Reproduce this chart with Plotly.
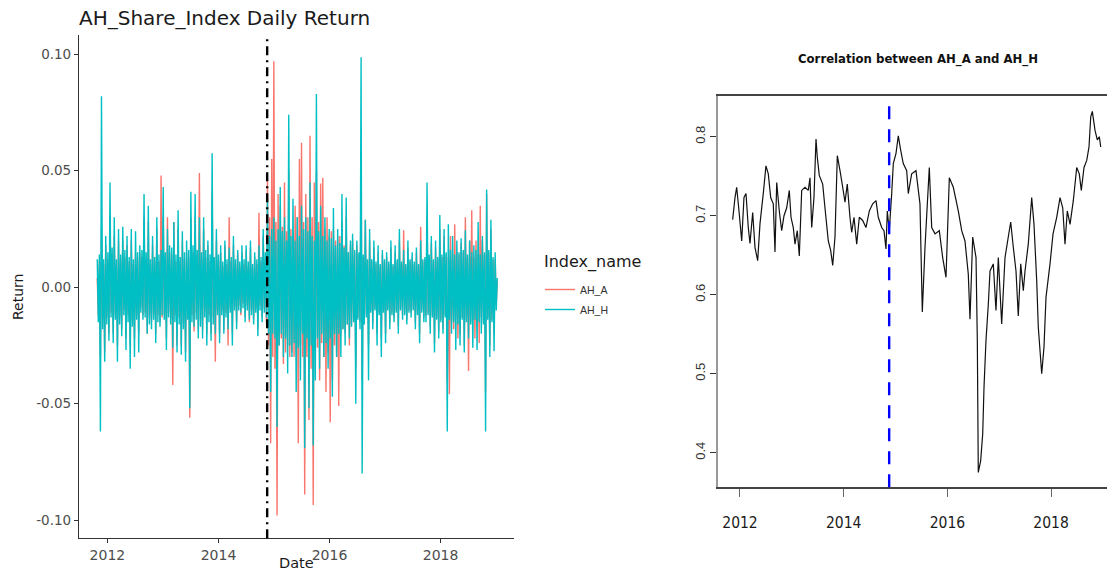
import pandas as pd
import plotly.graph_objects as go

# Return panel: one observation per week, late Oct 2011 to Jan 2019
ret_dates = pd.date_range("2011-10-26", periods=377, freq="7D")

ah_a = [
    0.004, -0.012, 0.011, -0.030, 0.025, -0.014, 0.010, -0.028, 0.018, -0.013,
    0.012, -0.020, 0.030, -0.011, 0.014, -0.020, 0.022, -0.012, 0.010, -0.025,
    0.020, -0.013, 0.012, -0.018, 0.020, -0.010, 0.013, -0.022, 0.018, -0.012,
    0.011, -0.025, 0.020, -0.014, 0.010, -0.022, 0.015, -0.012, 0.013, -0.020,
    0.015, -0.009, 0.013, -0.012, 0.030, -0.011, 0.012, -0.020, 0.028, -0.013,
    0.010, -0.015, 0.018, -0.012, 0.011, -0.020, 0.025, -0.012, 0.011, -0.015,
    0.048, -0.013, 0.030, -0.012, 0.012, -0.022, 0.030, -0.011, 0.015, -0.013,
    0.014, -0.042, 0.028, -0.012, 0.011, -0.025, 0.025, -0.013, 0.011, -0.025,
    0.020, -0.015, 0.012, -0.028, 0.015, -0.011, 0.013, -0.056, 0.030, -0.012,
    0.015, -0.019, 0.030, -0.011, 0.013, -0.018, 0.049, -0.014, 0.012, -0.018,
    0.025, -0.011, 0.013, -0.020, 0.018, -0.012, 0.011, -0.020, 0.040, -0.013,
    0.011, -0.032, 0.020, -0.010, 0.011, -0.020, 0.015, -0.010, 0.009, -0.018,
    0.018, -0.011, 0.010, -0.025, 0.030, -0.009, 0.011, -0.020, 0.018, -0.008,
    0.010, -0.015, 0.015, -0.008, 0.009, -0.012, 0.015, -0.007, 0.010, -0.013,
    0.016, -0.008, 0.009, -0.015, 0.017, -0.010, 0.008, -0.014, 0.013, -0.009,
    0.010, -0.018, 0.032, -0.008, 0.011, -0.013, 0.022, -0.009, 0.012, -0.015,
    0.047, -0.025, 0.030, -0.067, 0.055, -0.030, 0.097, -0.035, 0.028, -0.098,
    0.040, -0.025, 0.035, -0.022, 0.026, -0.033, 0.045, -0.028, 0.024, -0.025,
    0.050, -0.030, 0.025, -0.028, 0.022, -0.030, 0.035, -0.028, 0.030, -0.067,
    0.055, -0.025, 0.062, -0.030, 0.028, -0.089, 0.040, -0.030, 0.030, -0.057,
    0.065, -0.035, 0.030, -0.0935, 0.045, -0.025, 0.050, -0.026, 0.028, -0.040,
    0.0445, -0.024, 0.047, -0.030, 0.025, -0.045, 0.030, -0.028, 0.022, -0.058,
    0.024, -0.040, 0.025, -0.025, 0.020, -0.030, 0.022, -0.051, 0.022, -0.020,
    0.028, -0.018, 0.018, -0.020, 0.030, -0.016, 0.015, -0.025, 0.018, -0.016,
    0.020, -0.014, 0.015, -0.035, 0.018, -0.013, 0.014, -0.015, 0.050, -0.040,
    0.013, -0.015, 0.029, -0.012, 0.011, -0.025, 0.020, -0.010, 0.011, -0.015,
    0.017, -0.009, 0.010, -0.020, 0.015, -0.011, 0.009, -0.022, 0.014, -0.010,
    0.011, -0.020, 0.013, -0.009, 0.010, -0.015, 0.017, -0.011, 0.009, -0.013,
    0.015, -0.010, 0.011, -0.017, 0.020, -0.009, 0.010, -0.012, 0.0245, -0.011,
    0.009, -0.014, 0.017, -0.010, 0.011, -0.011, 0.013, -0.009, 0.010, -0.015,
    0.015, -0.011, 0.009, -0.020, 0.026, -0.010, 0.011, -0.013, 0.012, -0.012,
    0.030, -0.011, 0.013, -0.017, 0.019, -0.012, 0.011, -0.024, 0.017, -0.013,
    0.012, -0.019, 0.025, -0.014, 0.013, -0.018, 0.022, -0.012, 0.014, -0.040,
    0.013, -0.046, 0.022, -0.015, 0.014, -0.018, 0.027, -0.013, 0.015, -0.022,
    0.014, -0.020, 0.019, -0.013, 0.015, -0.025, 0.030, -0.014, 0.013, -0.036,
    0.020, -0.015, 0.033, -0.014, 0.013, -0.022, 0.020, -0.015, 0.014, -0.024,
    0.035, -0.013, 0.020, -0.015, 0.014, -0.045, 0.040, -0.013, 0.015, -0.025,
    0.025, -0.014, 0.012, -0.020, 0.012, -0.008, 0.003,
]

ah_h = [
    0.012, -0.015, 0.014, -0.062, 0.082, -0.018, 0.012, -0.032, 0.022, -0.016,
    0.015, -0.023, 0.045, -0.013, 0.017, -0.024, 0.030, -0.014, 0.012, -0.032,
    0.025, -0.016, 0.014, -0.021, 0.026, -0.012, 0.016, -0.027, 0.022, -0.015,
    0.013, -0.035, 0.025, -0.017, 0.012, -0.030, 0.024, -0.014, 0.015, -0.028,
    0.018, -0.011, 0.016, -0.014, 0.040, -0.013, 0.015, -0.020, 0.035, -0.016,
    0.012, -0.018, 0.022, -0.014, 0.013, -0.024, 0.030, -0.015, 0.014, -0.017,
    0.016, -0.012, 0.043, -0.014, 0.015, -0.027, 0.025, -0.013, 0.018, -0.016,
    0.017, -0.026, 0.028, -0.015, 0.014, -0.028, 0.033, -0.016, 0.013, -0.029,
    0.024, -0.018, 0.015, -0.032, 0.020, -0.014, 0.016, -0.052, 0.041, -0.015,
    0.018, -0.017, 0.040, -0.014, 0.016, -0.022, 0.030, -0.017, 0.015, -0.022,
    0.030, -0.013, 0.016, -0.025, 0.020, -0.015, 0.014, -0.023, 0.0575, -0.016,
    0.013, -0.020, 0.025, -0.012, 0.014, -0.024, 0.018, -0.012, 0.011, -0.020,
    0.020, -0.013, 0.012, -0.018, 0.017, -0.011, 0.013, -0.025, 0.022, -0.010,
    0.012, -0.018, 0.016, -0.010, 0.011, -0.011, 0.018, -0.009, 0.012, -0.015,
    0.018, -0.010, 0.011, -0.014, 0.020, -0.012, 0.010, -0.016, 0.015, -0.011,
    0.012, -0.021, 0.018, -0.010, 0.013, -0.015, 0.025, -0.011, 0.015, -0.013,
    0.038, -0.020, 0.022, -0.045, 0.025, -0.020, 0.030, -0.022, 0.020, -0.060,
    0.025, -0.025, 0.043, -0.020, 0.024, -0.030, 0.030, -0.022, 0.020, -0.037,
    0.074, -0.025, 0.022, -0.030, 0.038, -0.024, 0.020, -0.045, 0.030, -0.026,
    0.022, -0.040, 0.035, -0.020, 0.025, -0.069, 0.030, -0.022, 0.024, -0.052,
    0.045, -0.025, 0.022, -0.068, 0.020, -0.040, 0.083, -0.022, 0.024, -0.035,
    0.035, -0.020, 0.022, -0.030, 0.030, -0.024, 0.020, -0.035, 0.025, -0.022,
    0.021, -0.047, 0.034, -0.020, 0.018, -0.030, 0.025, -0.020, 0.019, -0.030,
    0.040, -0.018, 0.017, -0.025, 0.0385, -0.016, 0.015, -0.022, 0.020, -0.017,
    0.023, -0.015, 0.016, -0.050, 0.020, -0.014, 0.015, -0.018, 0.0987, -0.080,
    0.014, -0.016, 0.029, -0.013, 0.012, -0.040, 0.025, -0.011, 0.012, -0.018,
    0.020, -0.010, 0.011, -0.025, 0.018, -0.012, 0.010, -0.030, 0.016, -0.011,
    0.012, -0.024, 0.015, -0.010, 0.011, -0.018, 0.020, -0.012, 0.010, -0.015,
    0.018, -0.011, 0.012, -0.020, 0.025, -0.010, 0.011, -0.014, 0.016, -0.012,
    0.010, -0.016, 0.020, -0.011, 0.012, -0.013, 0.015, -0.010, 0.011, -0.018,
    0.017, -0.012, 0.010, -0.024, 0.020, -0.011, 0.012, -0.015, 0.013, -0.015,
    0.045, -0.012, 0.014, -0.020, 0.022, -0.013, 0.012, -0.028, 0.020, -0.014,
    0.013, -0.022, 0.031, -0.015, 0.014, -0.020, 0.025, -0.013, 0.015, -0.062,
    0.027, -0.014, 0.016, -0.020, 0.022, -0.015, 0.014, -0.027, 0.020, -0.016,
    0.015, -0.025, 0.021, -0.014, 0.016, -0.028, 0.0245, -0.015, 0.014, -0.022,
    0.020, -0.016, 0.015, -0.026, 0.018, -0.014, 0.016, -0.027, 0.028, -0.015,
    0.014, -0.020, 0.022, -0.016, 0.015, -0.062, 0.042, -0.014, 0.016, -0.030,
    0.029, -0.015, 0.013, -0.0275, 0.015, -0.010, 0.004,
]

# Rolling correlation between AH_A and AH_H (time in decimal years)
corr_year = [
    2011.859, 2011.904, 2011.936, 2011.981, 2012.033, 2012.077, 2012.116, 2012.160,
    2012.193, 2012.245, 2012.289, 2012.341, 2012.386, 2012.449, 2012.501, 2012.546,
    2012.592, 2012.642, 2012.675, 2012.708, 2012.758, 2012.804, 2012.849, 2012.901,
    2012.951, 2012.984, 2013.028, 2013.061, 2013.105, 2013.144, 2013.190, 2013.254,
    2013.317, 2013.350, 2013.383, 2013.427, 2013.466, 2013.491, 2013.529, 2013.595,
    2013.639, 2013.703, 2013.749, 2013.788, 2013.832, 2013.877, 2013.929, 2013.981,
    2014.025, 2014.069, 2014.121, 2014.154, 2014.199, 2014.251, 2014.301, 2014.366,
    2014.430, 2014.494, 2014.559, 2014.623, 2014.667, 2014.733, 2014.777, 2014.816,
    2014.841, 2014.879, 2014.926, 2014.957, 2015.009, 2015.053, 2015.099, 2015.149,
    2015.215, 2015.246, 2015.311, 2015.394, 2015.471, 2015.516, 2015.568, 2015.651,
    2015.697, 2015.761, 2015.844, 2015.909, 2015.973, 2016.037, 2016.114, 2016.210,
    2016.276, 2016.339, 2016.403, 2016.436, 2016.488, 2016.552, 2016.577, 2016.596,
    2016.642, 2016.681, 2016.706, 2016.744, 2016.789, 2016.822, 2016.885, 2016.937,
    2016.982, 2017.047, 2017.111, 2017.174, 2017.221, 2017.271, 2017.323, 2017.367,
    2017.414, 2017.464, 2017.497, 2017.560, 2017.626, 2017.670, 2017.722, 2017.753,
    2017.819, 2017.863, 2017.902, 2017.979, 2018.037, 2018.108, 2018.172, 2018.224,
    2018.268, 2018.312, 2018.365, 2018.428, 2018.494, 2018.544, 2018.582, 2018.635,
    2018.687, 2018.731, 2018.764, 2018.795, 2018.847, 2018.891, 2018.930, 2018.957,
]

corr_value = [
    0.695, 0.723, 0.736, 0.706, 0.668, 0.723, 0.728, 0.685,
    0.665, 0.704, 0.660, 0.643, 0.690, 0.728, 0.763, 0.753,
    0.723, 0.715, 0.654, 0.742, 0.706, 0.681, 0.700, 0.710,
    0.732, 0.698, 0.685, 0.664, 0.681, 0.649, 0.732, 0.736,
    0.732, 0.748, 0.685, 0.723, 0.797, 0.774, 0.751, 0.740,
    0.710, 0.668, 0.656, 0.637, 0.673, 0.776, 0.757, 0.736,
    0.717, 0.740, 0.698, 0.679, 0.698, 0.664, 0.698, 0.694,
    0.685, 0.706, 0.715, 0.719, 0.698, 0.685, 0.681, 0.658,
    0.706, 0.681, 0.728, 0.766, 0.779, 0.801, 0.783, 0.766,
    0.757, 0.728, 0.753, 0.757, 0.715, 0.578, 0.660, 0.761,
    0.685, 0.677, 0.681, 0.647, 0.622, 0.748, 0.736, 0.706,
    0.681, 0.668, 0.626, 0.569, 0.673, 0.647, 0.542, 0.375,
    0.390, 0.424, 0.483, 0.542, 0.588, 0.630, 0.639, 0.580,
    0.647, 0.563, 0.647, 0.673, 0.692, 0.660, 0.630, 0.573,
    0.639, 0.605, 0.630, 0.664, 0.723, 0.689, 0.618, 0.559,
    0.500, 0.534, 0.597, 0.639, 0.677, 0.698, 0.723, 0.710,
    0.664, 0.706, 0.689, 0.719, 0.761, 0.753, 0.732, 0.761,
    0.770, 0.787, 0.825, 0.832, 0.808, 0.796, 0.800, 0.787,
]

# Shanghai-Hong Kong Stock Connect launch
connect_date = "2014-11-17"
connect_year = 2014.877

ret_ticks = [-0.10, -0.05, 0.00, 0.05, 0.10]
ret_ticktext = ["-0.10", "-0.05", "0.00", "0.05", "0.10"]
year_ticks = ["2012-01-01", "2014-01-01", "2016-01-01", "2018-01-01"]
year_ticktext = ["2012", "2014", "2016", "2018"]
corr_xticks = [2012, 2014, 2016, 2018]
corr_yticks = [0.4, 0.5, 0.6, 0.7, 0.8]

W, H = 1107, 573
WIDE = "DejaVu Sans, Verdana, sans-serif"
SANS = "Liberation Sans, Arial, sans-serif"
NARROW = "Liberation Sans Narrow, Arial Narrow, DejaVu Sans Condensed, sans-serif"

fig = go.Figure()
fig.add_trace(go.Scatter(
    x=ret_dates, y=ah_a, mode="lines", name="AH_A", legendgroup="a",
    line=dict(color="#F8766D", width=1.4, simplify=False), xaxis="x", yaxis="y",
))
fig.add_trace(go.Scatter(
    x=ret_dates, y=ah_h, mode="lines", name="AH_H", legendgroup="h",
    line=dict(color="#00BFC4", width=1.4, simplify=False), xaxis="x", yaxis="y",
))
fig.add_trace(go.Scatter(
    x=corr_year, y=corr_value, mode="lines", showlegend=False,
    line=dict(color="#111111", width=1.2, simplify=False), xaxis="x2", yaxis="y2",
))

# event markers
fig.add_shape(type="line", xref="x", yref="y domain",
              x0=connect_date, x1=connect_date, y0=0, y1=0.995,
              line=dict(color="black", width=2.4, dash="9px,5px,2px,5px"))
fig.add_shape(type="line", xref="x2", yref="y2 domain",
              x0=connect_year, x1=connect_year, y0=0, y1=0.985,
              line=dict(color="#0000FF", width=2.4, dash="13px,10px"))

fig.update_layout(
    width=W, height=H,
    margin=dict(l=0, r=0, t=0, b=0, autoexpand=False),
    paper_bgcolor="white", plot_bgcolor="white",
    font=dict(family=WIDE, color="#1a1a1a"),
    xaxis=dict(
        domain=[79 / W, 514 / W], anchor="y", type="date",
        range=["2011-06-28", "2019-04-29"],
        tickvals=year_ticks, ticktext=year_ticktext,
        tickfont=dict(size=14, color="#4D4D4D", family=WIDE),
        showgrid=False, zeroline=False, automargin=False,
        showline=True, linecolor="#333333", linewidth=1.2,
        ticks="outside", ticklen=4, tickcolor="#333333",
    ),
    yaxis=dict(
        domain=[(H - 538.3) / H, (H - 34.5) / H], anchor="x",
        range=[-0.1078, 0.1085],
        tickvals=ret_ticks, ticktext=ret_ticktext,
        tickfont=dict(size=13.5, color="#4D4D4D", family=WIDE),
        showgrid=False, zeroline=False, automargin=False,
        showline=True, linecolor="#333333", linewidth=1.2,
        ticks="outside", ticklen=4, tickcolor="#333333",
    ),
    xaxis2=dict(
        domain=[718 / W, 1.0], anchor="y2",
        range=[2011.576, 2019.078],
        tickvals=corr_xticks, ticktext=[str(v) for v in corr_xticks],
        tickfont=dict(size=15.5, family=NARROW, color="#1a1a1a"),
        showgrid=False, zeroline=False, automargin=False,
        showline=True, mirror=True, linecolor="#444444", linewidth=1.5,
        ticks="outside", ticklen=8, tickcolor="#666666",
        ticklabelstandoff=12,
    ),
    yaxis2=dict(
        domain=[(H - 487.3) / H, (H - 95.7) / H], anchor="x2",
        range=[0.3562, 0.8519],
        tickvals=corr_yticks, ticktext=[f"{v:.1f}" for v in corr_yticks],
        tickangle=-90,
        tickfont=dict(size=13, color="#333333", family=SANS),
        showgrid=False, zeroline=False, automargin=False,
        showline=True, linecolor="#999999", linewidth=1.5,
        ticks="outside", ticklen=6, tickcolor="#333333",
    ),
    legend=dict(
        x=540 / W, xanchor="left", y=(H - 275) / H, yanchor="top",
        font=dict(size=10.5, color="#333333", family=SANS),
        bgcolor="rgba(0,0,0,0)", itemwidth=30, tracegroupgap=1,
        traceorder="grouped",
    ),
    annotations=[
        dict(text="AH_Share_Index Daily Return", xref="paper", yref="paper",
             x=77 / W, y=(H - 18) / H, xanchor="left", yanchor="middle",
             showarrow=False, font=dict(size=20, color="#1a1a1a", family=WIDE)),
        dict(text="Date", xref="paper", yref="paper",
             x=296 / W, y=(H - 563) / H, xanchor="center", yanchor="middle",
             showarrow=False, font=dict(size=14.5, color="#1a1a1a", family=WIDE)),
        dict(text="Return", xref="paper", yref="paper", textangle=-90,
             x=18 / W, y=(H - 297) / H, xanchor="center", yanchor="middle",
             showarrow=False, font=dict(size=14, color="#1a1a1a", family=WIDE)),
        dict(text="Index_name", xref="paper", yref="paper",
             x=542 / W, y=(H - 262) / H, xanchor="left", yanchor="middle",
             showarrow=False, font=dict(size=16, color="#1a1a1a", family=WIDE)),
        dict(text="<b>Correlation between AH_A and AH_H</b>", xref="paper", yref="paper",
             x=918 / W, y=(H - 59) / H, xanchor="center", yanchor="middle",
             showarrow=False, font=dict(size=13, color="#111111", family=NARROW)),
    ],
)

fig.write_html("out.html")
